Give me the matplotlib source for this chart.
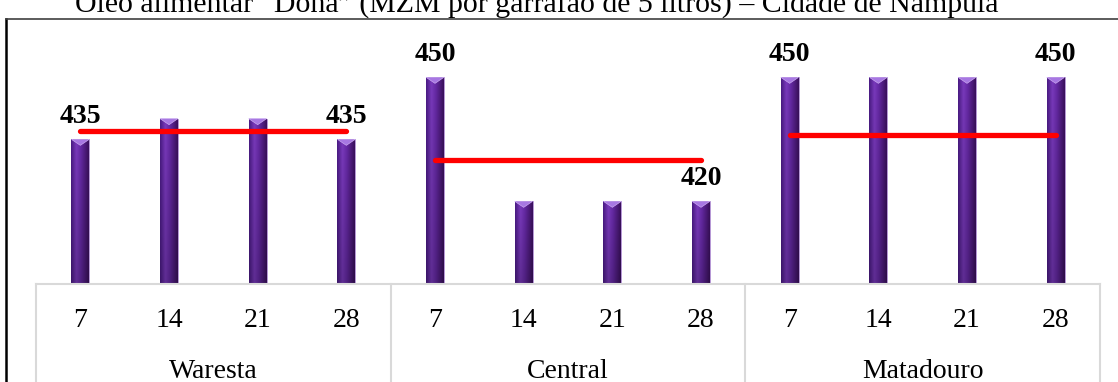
import numpy as np
import matplotlib
matplotlib.use("Agg")
import matplotlib.pyplot as plt
from matplotlib.patches import Polygon
from matplotlib.lines import Line2D
from matplotlib.colors import to_rgb
from matplotlib.transforms import blended_transform_factory

# Prices of "Dona" cooking oil (MZM per 5-litre container) by market and day
markets = ["Waresta", "Central", "Matadouro"]
days = ["7", "14", "21", "28"]
waresta = [435, 440, 440, 435]
central = [450, 420, 420, 420]
matadouro = [450, 450, 450, 450]
market_avg = [437, 430, 436]

title = "Óleo alimentar \u201cDona\u201d (MZM por garrafão de 5 litros) \u2013 Cidade de Nampula"

SERIF = "Liberation Serif"
W, H = 1118, 382
fig = plt.figure(figsize=(W / 100, H / 100), dpi=100)


def box(x0, y0, x1, y1):
    """Pixel box (top-left origin) -> figure fraction rect."""
    return [x0 / W, 1 - y1 / H, (x1 - x0) / W, (y1 - y0) / H]


def fy(y):
    return 1 - y / H


ax = fig.add_axes(box(36, 22, 1100, 284))

values = waresta + central + matadouro
n = len(days)
x = np.arange(len(values))
ymin = 400
ymax = 400 + 262 / 4.133

bar_w = 0.2
bars = ax.bar(x, [v - ymin for v in values], bottom=ymin, width=bar_w,
              color="#5a2394", edgecolor="#b89ad8", linewidth=0.6, zorder=2)

# horizontal + vertical shading inside each bar
stops = [0.0, 0.3, 0.55, 1.0]
cols = np.array([to_rgb(c) for c in ["#4a1b84", "#7a3abd", "#6529a4", "#3a105c"]])
u = np.linspace(0, 1, 40)
prof = np.stack([np.interp(u, stops, cols[:, k]) for k in range(3)], axis=-1)
vert = np.linspace(1.0, 0.78, 120)[:, None, None]
grad = np.clip(prof[None, :, :] * vert, 0, 1)

tri_h = 6 / 4.133
for rect, v in zip(bars, values):
    x0 = rect.get_x()
    x1 = x0 + rect.get_width()
    im = ax.imshow(grad, extent=[x0, x1, ymin, v], origin="upper",
                   aspect="auto", zorder=2.1, interpolation="bilinear")
    im.set_clip_path(rect)
    xc = (x0 + x1) / 2
    ax.add_patch(Polygon([(x0, v), (x1, v), (xc, v - tri_h)], closed=True,
                         facecolor="#a777e2", edgecolor="#c9a8f0",
                         linewidth=0.5, zorder=2.2))

# market reference line across each group
for g, avg in enumerate(market_avg):
    ax.plot([g * n, g * n + n - 1], [avg, avg], color="#ff0000", lw=3.8,
            solid_capstyle="round", zorder=4)

# value labels on the first and last day of each market
for g in range(len(markets)):
    for i in (g * n, g * n + n - 1):
        ax.annotate(str(values[i]), (x[i], values[i]), xytext=(0, 11.5),
                    textcoords="offset points", ha="center", va="baseline",
                    fontsize=20, fontweight="bold", family=SERIF, color="black",
                    zorder=5)

ax.set_xlim(-0.5, len(values) - 0.5)
ax.set_ylim(ymin, ymax)
ax.set_yticks([])
ax.set_xticks([])
for s in ("top", "left", "right"):
    ax.spines[s].set_visible(False)
ax.spines["bottom"].set_color("#d9d9d9")
ax.spines["bottom"].set_linewidth(1.5)

# two-level category axis
tr = blended_transform_factory(ax.transData, fig.transFigure)
for i, v in enumerate(x):
    ax.text(v, fy(327), days[i % n], transform=tr, ha="center", va="baseline",
            fontsize=20, family=SERIF, color="black")
for g, name in enumerate(markets):
    ax.text(g * n + (n - 1) / 2, fy(378), name, transform=tr, ha="center",
            va="baseline", fontsize=20, family=SERIF, color="black")
for b in np.arange(0, len(values) + 1, n) - 0.5:
    ax.add_line(Line2D([b, b], [fy(284), 0], transform=tr, color="#d9d9d9",
                       lw=1.5, clip_on=False))

# outer chart frame (left and top edges)
fig.add_artist(Line2D([6 / W, 6 / W], [fy(19), 0], color="black", lw=1.8))
fig.add_artist(Line2D([6 / W, 1 ], [fy(19), fy(19)], color="#404040", lw=1.2))

fig.text(537 / W, fy(12), title, ha="center", va="baseline", fontsize=21.5,
         family=SERIF, color="black")

fig.savefig("out.png", dpi=100)
